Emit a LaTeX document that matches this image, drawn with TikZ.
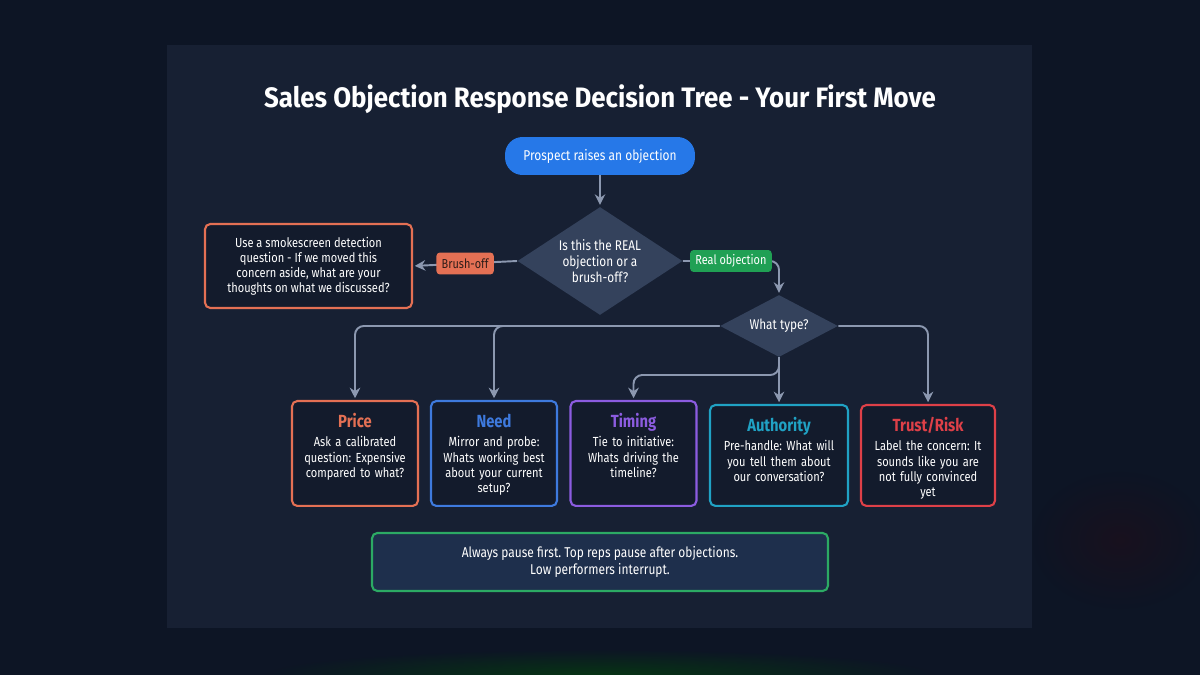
\documentclass[tikz,border=0pt]{standalone}
\usepackage{fontspec}
\setmainfont{Fira Sans}[FakeStretch=0.84]
\newfontfamily\titlefont{Fira Sans}[FakeStretch=0.92]
\usepackage{tikz}
\usetikzlibrary{arrows.meta, positioning, shapes.geometric}
\definecolor{pagebg}{RGB}{13, 21, 37}
\definecolor{panelbg}{RGB}{23, 32, 51}
\definecolor{cardbg}{RGB}{19, 27, 44}
\definecolor{decgray}{RGB}{52, 66, 92}
\definecolor{linegray}{RGB}{140, 152, 176}
\definecolor{startblue}{RGB}{38, 120, 232}
\definecolor{objorange}{RGB}{228, 112, 84}
\definecolor{objgreen}{RGB}{32, 160, 84}
\definecolor{tagdark}{RGB}{45, 28, 24}
\definecolor{needblue}{RGB}{62, 122, 222}
\definecolor{timepurple}{RGB}{140, 92, 224}
\definecolor{authcyan}{RGB}{32, 162, 196}
\definecolor{trustred}{RGB}{222, 64, 72}
\definecolor{notebg}{RGB}{30, 47, 76}
\definecolor{notegreen}{RGB}{44, 170, 100}
\newcommand{\cardtitle}[2]{{\fontsize{10}{12}\selectfont\bfseries\color{#1}#2}\\[2.5pt]}
\frenchspacing

\begin{document}
\begin{tikzpicture}[
  x=0.02cm, y=-0.02cm,
  every node/.style={font=\fontsize{7.5}{8.6}\selectfont, text=white},
  startbox/.style={fill=startblue, rounded corners=10pt,
                   minimum width=3.8cm, minimum height=0.76cm,
                   font=\fontsize{8.1}{9}\selectfont},
  decision/.style={diamond, fill=decgray, inner sep=0pt, align=center,
                   font=\fontsize{8}{9}\selectfont},
  tag/.style={rounded corners=2pt, inner xsep=3pt, inner ysep=0pt,
              minimum height=0.44cm, font=\fontsize{7.4}{8}\selectfont},
  card/.style={draw=#1, fill=cardbg, line width=1.2pt, rounded corners=3pt,
               text width=2.3cm, align=center, inner xsep=0.11cm,
               inner ysep=3pt, text height=12pt, text depth=41.7pt, anchor=north},
  hint/.style={draw=objorange, fill=cardbg, line width=1.2pt, rounded corners=3pt,
               minimum width=4.14cm, minimum height=1.68cm, align=center},
  note/.style={draw=notegreen, fill=notebg, line width=1.2pt, rounded corners=3pt,
               minimum width=9.12cm, minimum height=1.16cm, align=center,
               font=\fontsize{8.1}{9.2}\selectfont},
  arrow/.style={-{Stealth[length=6pt, width=6pt]}, draw=linegray,
                line width=1.1pt, rounded corners=5pt, shorten >=1pt}
]
\useasboundingbox (0,0) rectangle (1200,675);

% ── Background ───────────────────────────────────────────────────────────────
\fill[pagebg] (0,0) rectangle (1200,675);
\shade[inner color=green!35!black, outer color=pagebg, opacity=0.45]
  (600,675) ellipse [x radius=340, y radius=26];
\shade[inner color=red!30!black, outer color=pagebg, opacity=0.18]
  (1120,540) ellipse [x radius=90, y radius=70];
\fill[panelbg] (167,45) rectangle (1032,628);

% ── Nodes ────────────────────────────────────────────────────────────────────
\node[font=\titlefont\fontsize{16}{19}\selectfont\bfseries] (title) at (600,99)
  {Sales Objection Response Decision Tree - Your First Move};

\node[startbox] (start) at (600,156) {Prospect raises an objection};

\node[decision, aspect=1.5, minimum width=3.3cm, minimum height=2.16cm] (real)
  at (600,261) {Is this the REAL\\objection or a\\brush-off?};

\node[hint] (smoke) at (308.5,266)
  {Use a smokescreen detection\\question - If we moved this\\concern aside, what are your\\thoughts on what we discussed?};

\node[decision, aspect=1.9, minimum width=2.36cm, minimum height=1.24cm] (type)
  at (779,326) {What type?};

\coordinate (tsplit) at (779,375);

\node[card=objorange] (price) at (355,400)
  {\cardtitle{objorange}{Price}Ask a calibrated\\question: Expensive\\compared to what?};

\node[card=needblue] (need) at (494,400)
  {\cardtitle{needblue}{Need}Mirror and probe:\\Whats working best\\about your current\\setup?};

\node[card=timepurple] (timing) at (633.5,400)
  {\cardtitle{timepurple}{Timing}Tie to initiative:\\Whats driving the\\timeline?};

\node[card=authcyan, text width=2.54cm, text depth=39.4pt] (auth) at (779,404)
  {\cardtitle{authcyan}{Authority}Pre-handle: What will\\you tell them about\\our conversation?};

\node[card=trustred, text width=2.46cm, text depth=39.4pt] (trust) at (928,404)
  {\cardtitle{trustred}{Trust/Risk}Label the concern: It\\sounds like you are\\not fully convinced\\yet};

\node[note] (pause) at (600,562)
  {Always pause first. Top reps pause after objections.\\Low performers interrupt.};

% ── Arrows ───────────────────────────────────────────────────────────────────
% Start → first question
\draw[arrow] (start) -- (real);

% Brush-off branch
\draw[arrow] (real.west) --
  node[tag, fill=objorange, text=tagdark] {Brush-off} (smoke.east);

% Real objection branch
\draw[arrow] (real.east) -|
  node[tag, fill=objgreen, pos=0.25] {Real objection} (type.north);

% Objection types
\draw[arrow] (type.west) -| (price.north);
\draw[arrow] (type.west) -| (need.north);
\draw[arrow] (type.south) -- (tsplit) -| (timing.north);
\draw[arrow] (type.south) -- (auth.north);
\draw[arrow] (type.east) -| (trust.north);

\end{tikzpicture}
\end{document}
